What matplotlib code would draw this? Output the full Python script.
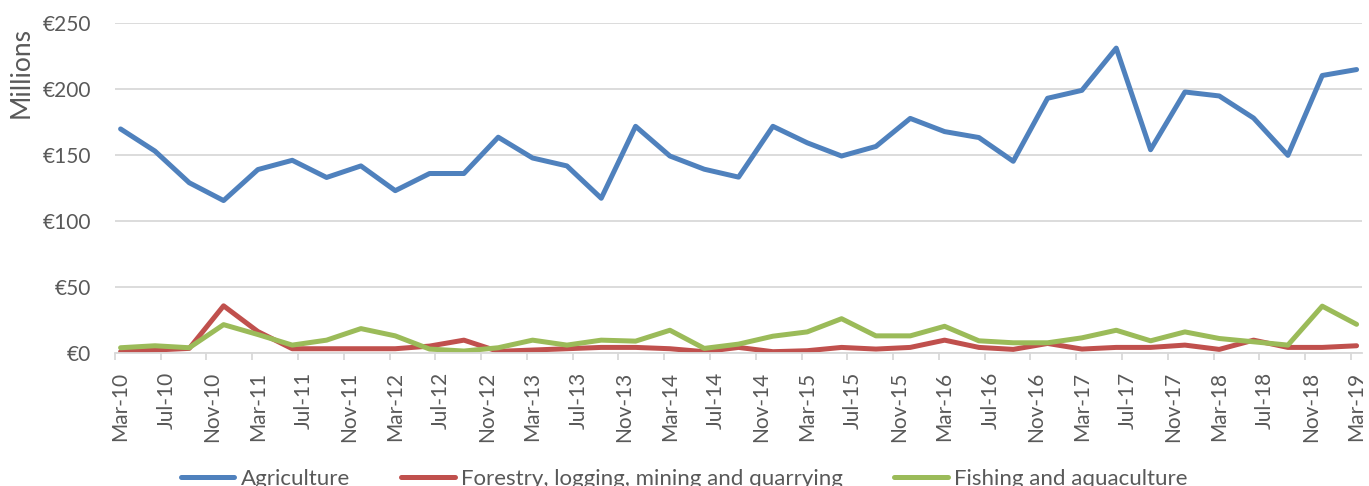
import pandas as pd
import numpy as np
import matplotlib
matplotlib.use('Agg')
import matplotlib.pyplot as plt

plt.rcParams['font.family'] = ['Lato', 'DejaVu Sans']

# quarterly observations, Mar-10 .. Mar-19
dates = pd.date_range('2010-03-01', '2019-03-01', freq='3MS')

agriculture = [169.5, 152.75, 128.75, 115.25, 138.75, 145.75, 132.75, 141.5, 122.75,
               135.75, 135.75, 163.25, 147.5, 141.5, 117, 171.5, 149,
               139, 133, 171.5, 159, 149, 156.25, 177.5, 167.5, 163, 145,
               192.75, 198.75, 230.75, 153.75, 197.5, 194.5, 177.75, 149.5, 210, 214.5]
forestry = [0.75, 2, 3.25, 35.5, 16, 3, 3, 3, 3, 5, 9.5, 1, 2, 3, 4, 4, 3,
            0.75, 4, 0.75, 1.5, 4, 2.75, 4, 9.5, 4, 2.5, 7, 2.75, 4, 4, 5.75,
            2.5, 9.5, 4, 4, 5.25]
fishing = [3.75, 5.25, 3.75, 21.25, 13.75, 5.75, 9.5, 18.25, 12.75, 2.75, 1.25,
           3.75, 9.5, 5.75, 9.5, 8.75, 17, 3.25, 6.5, 12.5, 15.75, 25.75, 12.75,
           12.75, 20, 9, 7.5, 7.5, 11.25, 17, 9, 15.75, 10.75, 8.25, 5.75, 35.25, 21.5]

series_names = ['Agriculture', 'Forestry, logging, mining and quarrying', 'Fishing and aquaculture']
colors = ['#4f81bd', '#c0504d', '#9bbb59']

# date axis in months since Mar-10
def month_idx(d):
    return (d.year - 2010) * 12 + d.month - 3

x = np.array([month_idx(d) for d in dates])
tick_dates = pd.date_range('2010-03-01', '2019-03-01', freq='4MS')
tick_pos = np.array([month_idx(d) for d in tick_dates])
tick_labels = [d.strftime('%b-%y') for d in tick_dates]

fig = plt.figure(figsize=(13.69, 4.86), dpi=100)
ax = fig.add_axes([0.0839, 0.2743, 0.9951 - 0.0839, 0.9533 - 0.2743])

for vals, name, c in zip([agriculture, forestry, fishing], series_names, colors):
    ax.plot(x, vals, color=c, lw=3.6, label=name, solid_joinstyle='round', solid_capstyle='round')

ax.set_xlim(-0.5, 108.5)
ax.set_ylim(0, 250)
ax.set_yticks([0, 50, 100, 150, 200, 250])
ax.set_yticklabels(['€0', '€50', '€100', '€150', '€200', '€250'])
ax.yaxis.grid(True, color='#d9d9d9', lw=1.3)
ax.set_axisbelow(True)

ax.set_xticks(tick_pos)
ax.set_xticklabels(tick_labels, rotation=90)
ax.set_xticks(tick_pos - 0.5, minor=True)
ax.tick_params(axis='x', which='major', length=0, pad=14, labelsize=15, colors='#595959')
ax.tick_params(axis='x', which='minor', length=5, width=1.3, color='#d9d9d9')
ax.tick_params(axis='y', length=0, pad=17, labelsize=15, colors='#595959')

for s in ['top', 'right', 'left']:
    ax.spines[s].set_visible(False)
ax.spines['bottom'].set_color('#d9d9d9')
ax.spines['bottom'].set_linewidth(1.3)

fig.text(0.0155, 0.85, 'Millions', rotation=90, ha='center', va='center',
         fontsize=19, color='#595959')

fig.legend(loc='center', bbox_to_anchor=(0.5, 0.014), ncol=3, frameon=False,
           fontsize=16, handlelength=2.4, handletextpad=0.3, columnspacing=2.3,
           labelcolor='#595959')

fig.savefig('out.png', dpi=100)
